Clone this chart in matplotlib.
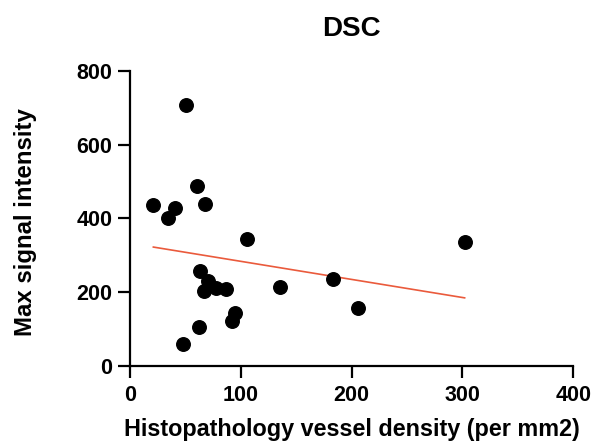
import matplotlib
matplotlib.use("Agg")
import matplotlib.pyplot as plt
import numpy as np

# --- DATA ---
vessel_density = [50.5, 60, 21, 40.5, 34, 67.6, 105.6, 63, 70.4, 66.4,
                  78, 87, 135.7, 94.4, 91.7, 61.9, 47.4, 183, 205.5, 302]
max_signal = [708, 489, 436, 429, 402, 439, 345, 258, 231, 204,
              212, 208, 215, 143, 123, 106, 60, 237, 156, 337]
x_ticks = [0, 100, 200, 300, 400]
y_ticks = [0, 200, 400, 600, 800]

plt.rcParams['font.family'] = ['Liberation Sans', 'DejaVu Sans']
plt.rcParams['font.weight'] = 'bold'

fig = plt.figure(figsize=(5.94, 4.44), dpi=100)
ax = fig.add_axes([0.219, 0.176, 0.746, 0.664])

ax.scatter(vessel_density, max_signal, s=95, color='black', zorder=3, clip_on=False)

# linear regression line over the data range
k, b = np.polyfit(vessel_density, max_signal, 1)
xs = np.array([min(vessel_density), max(vessel_density)])
ax.plot(xs, k * xs + b, color='#ea5a3c', linewidth=1.2, zorder=2)

ax.set_xlim(0, 400)
ax.set_ylim(0, 800)
ax.set_xticks(x_ticks)
ax.set_yticks(y_ticks)

for side in ['top', 'right']:
    ax.spines[side].set_visible(False)
for side in ['left', 'bottom']:
    ax.spines[side].set_linewidth(1.6)

ax.tick_params(axis='both', direction='out', length=8.3, width=1.6, labelsize=15.5)
ax.tick_params(axis='x', pad=5.5)
ax.tick_params(axis='y', pad=4.5)
for lbl in ax.get_xticklabels() + ax.get_yticklabels():
    lbl.set_fontweight('bold')

ax.set_xlabel("Histopathology vessel density (per mm2)", fontsize=16.8, fontweight='bold')
ax.set_ylabel("Max signal intensity", fontsize=17.3, fontweight='bold')
ax.xaxis.set_label_coords(0.5, -0.176)
ax.yaxis.set_label_coords(-0.21, 0.488)

ax.set_title("DSC", fontsize=20, fontweight='bold', pad=25)

fig.savefig("out.png", dpi=100)
